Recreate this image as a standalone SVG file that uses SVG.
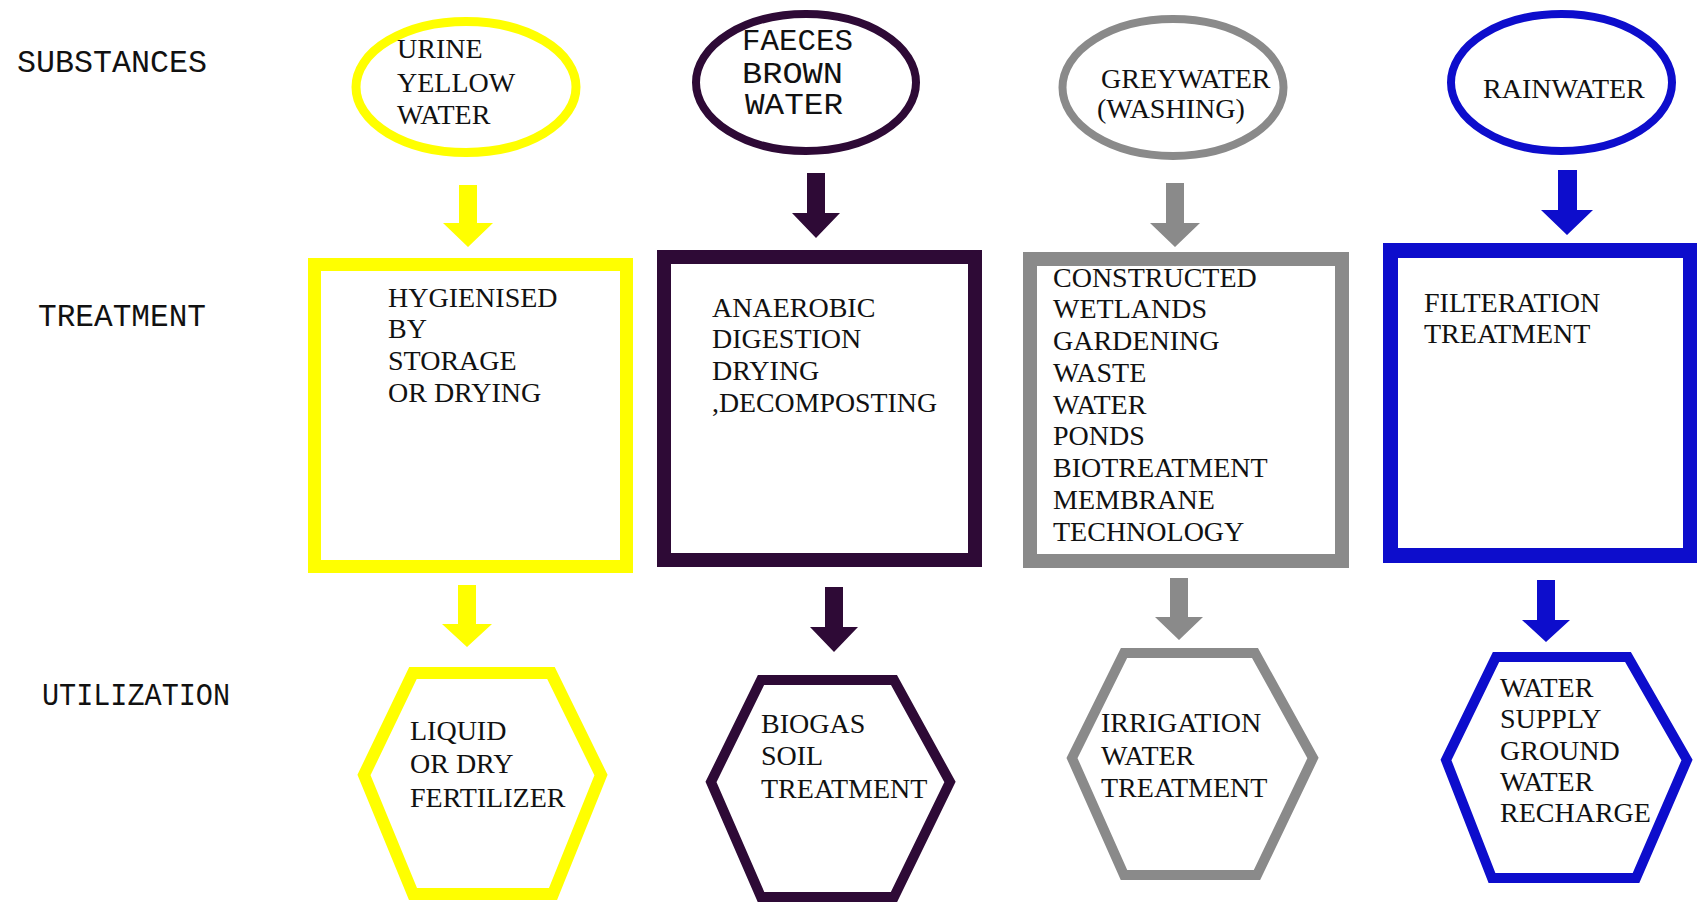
<svg xmlns="http://www.w3.org/2000/svg" width="1697" height="902" viewBox="0 0 1697 902">
<style>
.lbl{font-family:"Liberation Mono","DejaVu Sans Mono",monospace;font-size:31px;fill:#111}
.fc{font-family:"Liberation Mono","DejaVu Sans Mono",monospace;font-size:29px;fill:#111}
.t{font-family:"Liberation Serif","Times New Roman",serif;font-size:28px;fill:#111}
.y{stroke:#ffff00;fill:#fff}
.p{stroke:#2e0a36;fill:#fff}
.g{stroke:#8a8a8a;fill:#fff}
.b{stroke:#0d0dcc;fill:#fff}
.ay{fill:#ffff00}.ap{fill:#2e0a36}.ag{fill:#8a8a8a}.ab{fill:#0d0dcc}
</style>
<rect width="1697" height="902" fill="#fff"/>

<g id="row-labels">
<text class="lbl" x="17" y="72" textLength="190" lengthAdjust="spacingAndGlyphs">SUBSTANCES</text>
<text class="lbl" x="38" y="326" textLength="168" lengthAdjust="spacingAndGlyphs">TREATMENT</text>
<text class="lbl" x="42" y="705" textLength="188" lengthAdjust="spacingAndGlyphs">UTILIZATION</text>
</g>

<g id="connectors">
<path class="ay" d="M459,185 H477 V223 H493 L468,247 L443,223 H459 Z"/>
<path class="ay" d="M458,585 H476 V624 H492 L467,647 L442,624 H458 Z"/>
<path class="ap" d="M807,173 H825 V213 H840 L816,238 L792,213 H807 Z"/>
<path class="ap" d="M825,587 H843 V627 H858 L834,652 L810,627 H825 Z"/>
<path class="ag" d="M1166,183 H1184 V223 H1200 L1175,247 L1150,223 H1166 Z"/>
<path class="ag" d="M1170,578 H1188 V617 H1203 L1179,640 L1155,617 H1170 Z"/>
<path class="ab" d="M1558,170 H1577 V210 H1593 L1567,235 L1541,210 H1558 Z"/>
<path class="ab" d="M1537,580 H1555 V620 H1570 L1546,642 L1522,620 H1537 Z"/>
</g>

<g id="urine">
<ellipse class="y" cx="466" cy="87" rx="110" ry="65.5" stroke-width="9"/>
<text class="t" x="397" y="58">URINE</text>
<text class="t" x="397" y="92">YELLOW</text>
<text class="t" x="397" y="124">WATER</text>
</g>
<g id="faeces">
<ellipse class="p" cx="806" cy="82.5" rx="110" ry="68.5" stroke-width="8"/>
<text class="fc" x="742" y="50" textLength="111" lengthAdjust="spacingAndGlyphs">FAECES</text>
<text class="fc" x="742" y="83" textLength="101" lengthAdjust="spacingAndGlyphs">BROWN</text>
<text class="fc" x="745" y="114" textLength="98" lengthAdjust="spacingAndGlyphs">WATER</text>
</g>
<g id="greywater">
<ellipse class="g" cx="1173" cy="87.5" rx="110.5" ry="68.5" stroke-width="8"/>
<text class="t" x="1101" y="88">GREYWATER</text>
<text class="t" x="1097" y="118">(WASHING)</text>
</g>
<g id="rainwater">
<ellipse class="b" cx="1561.5" cy="82.5" rx="110.5" ry="68.5" stroke-width="8"/>
<text class="t" x="1483" y="98">RAINWATER</text>
</g>

<g id="treat-urine">
<rect class="y" x="314.5" y="264.5" width="312" height="302" stroke-width="13"/>
<text class="t" x="388" y="307">HYGIENISED</text>
<text class="t" x="388" y="338">BY</text>
<text class="t" x="388" y="370">STORAGE</text>
<text class="t" x="388" y="402">OR DRYING</text>
</g>
<g id="treat-faeces">
<rect class="p" x="664" y="257" width="311" height="303" stroke-width="14"/>
<text class="t" x="712" y="317">ANAEROBIC</text>
<text class="t" x="712" y="348">DIGESTION</text>
<text class="t" x="712" y="380">DRYING</text>
<text class="t" x="712" y="412" textLength="225" lengthAdjust="spacingAndGlyphs">,DECOMPOSTING</text>
</g>
<g id="treat-grey">
<rect class="g" x="1030" y="259" width="312" height="302" stroke-width="14"/>
<text class="t" x="1053" y="287">CONSTRUCTED</text>
<text class="t" x="1053" y="318">WETLANDS</text>
<text class="t" x="1053" y="350">GARDENING</text>
<text class="t" x="1053" y="382">WASTE</text>
<text class="t" x="1053" y="414">WATER</text>
<text class="t" x="1053" y="445">PONDS</text>
<text class="t" x="1053" y="477">BIOTREATMENT</text>
<text class="t" x="1053" y="509">MEMBRANE</text>
<text class="t" x="1053" y="541">TECHNOLOGY</text>
</g>
<g id="treat-rain">
<rect class="b" x="1390.5" y="250.5" width="300" height="305" stroke-width="15"/>
<text class="t" x="1424" y="312">FILTERATION</text>
<text class="t" x="1424" y="343">TREATMENT</text>
</g>

<g id="use-urine">
<polygon class="y" points="413,673 551,673 601,775 553,894 413,894 364,775" stroke-width="12"/>
<text class="t" x="410" y="740">LIQUID</text>
<text class="t" x="410" y="773">OR DRY</text>
<text class="t" x="410" y="807">FERTILIZER</text>
</g>
<g id="use-faeces">
<polygon class="p" points="761,680 894,680 950,782 894,897 761,897 711,782" stroke-width="10"/>
<text class="t" x="761" y="733">BIOGAS</text>
<text class="t" x="761" y="765">SOIL</text>
<text class="t" x="761" y="798">TREATMENT</text>
</g>
<g id="use-grey">
<polygon class="g" points="1124,653 1255,653 1313,758 1257,875 1124,875 1072,758" stroke-width="10"/>
<text class="t" x="1101" y="732">IRRIGATION</text>
<text class="t" x="1101" y="765">WATER</text>
<text class="t" x="1101" y="797">TREATMENT</text>
</g>
<g id="use-rain">
<polygon class="b" points="1496,657 1628,657 1687,760 1636,878 1492,878 1446,760" stroke-width="10"/>
<text class="t" x="1500" y="697">WATER</text>
<text class="t" x="1500" y="728">SUPPLY</text>
<text class="t" x="1500" y="760">GROUND</text>
<text class="t" x="1500" y="791">WATER</text>
<text class="t" x="1500" y="822">RECHARGE</text>
</g>
</svg>
